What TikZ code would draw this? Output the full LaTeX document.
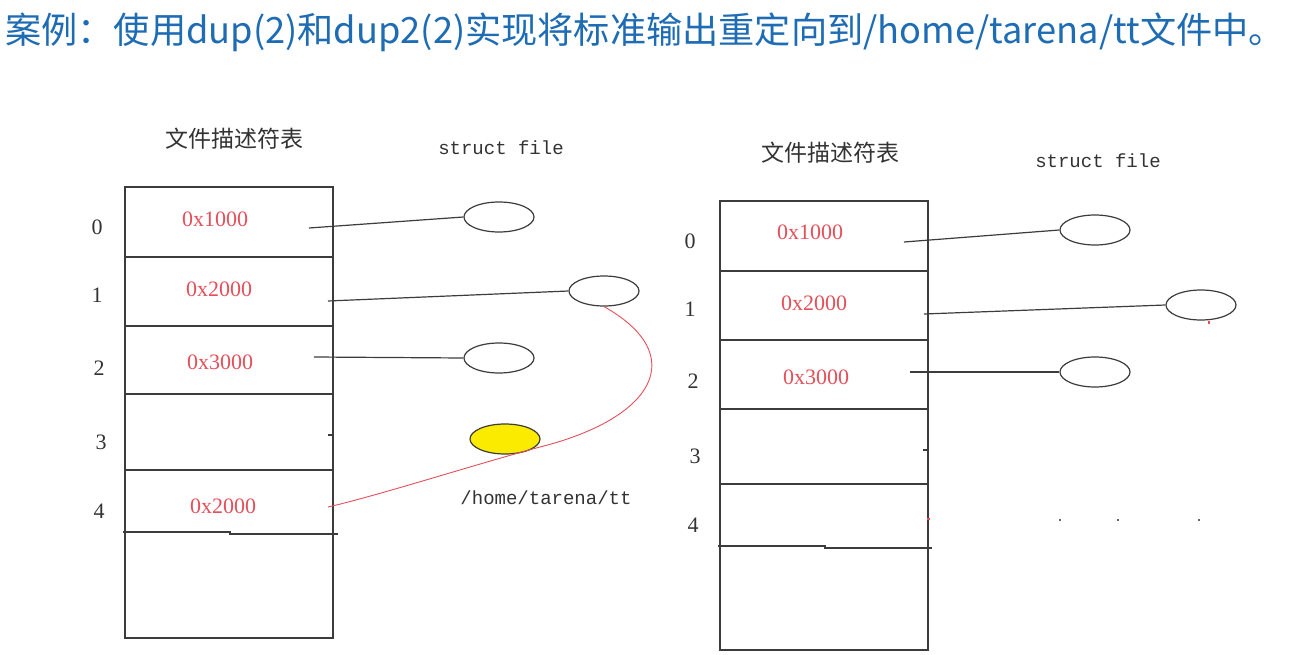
\documentclass[tikz,border=0pt]{standalone}
\usepackage{fontspec}
\newfontfamily\cjk{Noto Sans CJK SC}
\newfontfamily\ser{Liberation Serif}
\newfontfamily\mono{Liberation Mono}
\usetikzlibrary{shapes.geometric}
\definecolor{titleblue}{RGB}{30,108,180}
\definecolor{linegray}{RGB}{60,60,60}
\definecolor{hexred}{RGB}{228,80,90}
\definecolor{fileyellow}{RGB}{250,235,0}
\tikzset{
  tbl/.style={draw=linegray, line width=1.4pt},
  conn/.style={draw=linegray, line width=1.2pt},
  hex/.style={text=hexred, font=\ser\fontsize{22}{24}\selectfont, inner sep=0pt},
  idx/.style={text=black!80, font=\ser\fontsize{22}{24}\selectfont, inner sep=0pt},
  hdr/.style={text=black!80, font=\cjk\fontsize{23}{25}\selectfont, inner sep=0pt},
  sf/.style={text=black!80, font=\mono\fontsize{19}{20}\selectfont, inner sep=0pt},
  fileobj/.style={ellipse, draw=linegray, line width=1.2pt, minimum width=70pt, minimum height=30pt, inner sep=0pt},
  dupline/.style={draw=hexred, line width=0.9pt},
}
\begin{document}
\begin{tikzpicture}[x=1pt,y=-1pt]
\useasboundingbox (0,0) rectangle (1294,655);
\fill[white] (0,0) rectangle (1294,655);
% title
\node[anchor=west, inner sep=0pt, text=titleblue, font=\cjk\fontsize{36.2}{40}\selectfont] (title) at (5,32) {案例：使用dup(2)和dup2(2)实现将标准输出重定向到/home/tarena/tt文件中。};

% ===== left table =====
\node[hdr] (lh) at (234,139) {文件描述符表};
\node[sf] (lsf) at (501,148) {struct file};
\draw[tbl] (125,187) rectangle (333,638);
\draw[tbl] (125,257) -- (333,257);
\draw[tbl] (125,326) -- (333,326);
\draw[tbl] (125,394) -- (333,394);
\draw[tbl] (125,470) -- (333,470);
\draw[tbl] (123,532) -- (230,532) -- (230,534) -- (338,534);
\node[idx] (l0) at (97,227) {0};
\node[idx] (l1) at (97,295) {1};
\node[idx] (l2) at (99,368) {2};
\node[idx] (l3) at (101,442) {3};
\node[idx] (l4) at (99,511) {4};
\node[hex] (lx0) at (215,219) {0x1000};
\node[hex] (lx1) at (219,289) {0x2000};
\node[hex] (lx2) at (220,362) {0x3000};
\node[hex] (lx4) at (223,506) {0x2000};
\node[fileobj] (le0) at (499,217) {};
\node[fileobj] (le1) at (604,291) {};
\node[fileobj] (le2) at (499,358) {};
\node[fileobj, fill=fileyellow] (le3) at (505,439) {};
\node[sf] (ltt) at (546,498) {/home/tarena/tt};
\coordinate (ls0) at (309,228);
\coordinate (ls1) at (328,301);
\coordinate (ls2) at (314,357);
\coordinate (ls4) at (328,507);
\draw[conn] (ls0) -- (le0.west);
\draw[conn] (ls1) -- (le1.west);
\draw[conn] (ls2) -- (le2.west);
\draw[conn] (328,435) -- (333,435);
\draw[dupline] (le1.south) .. controls (690,355) and (655,418) .. (540,447) .. controls (470,466) and (380,495) .. (ls4);

% ===== right table =====
\node[hdr] (rh) at (830,153) {文件描述符表};
\node[sf] (rsf) at (1098,161) {struct file};
\draw[tbl] (720,201) rectangle (928,650);
\draw[tbl] (720,271) -- (928,271);
\draw[tbl] (720,340) -- (928,340);
\draw[tbl] (720,409) -- (928,409);
\draw[tbl] (720,484) -- (928,484);
\draw[tbl] (718,546) -- (825,546) -- (825,548) -- (932,548);
\node[idx] (r0) at (690,241) {0};
\node[idx] (r1) at (690,309) {1};
\node[idx] (r2) at (693,381) {2};
\node[idx] (r3) at (695,456) {3};
\node[idx] (r4) at (693,525) {4};
\node[hex] (rx0) at (810,232) {0x1000};
\node[hex] (rx1) at (814,303) {0x2000};
\node[hex] (rx2) at (816,377) {0x3000};
\node[fileobj] (re0) at (1095,230) {};
\node[fileobj] (re1) at (1201,305) {};
\node[fileobj] (re2) at (1095,372) {};
\coordinate (rs0) at (904,242);
\coordinate (rs1) at (924,314);
\coordinate (rs2) at (910,372);
\draw[conn] (rs0) -- (re0.west);
\draw[conn] (rs1) -- (re1.west);
\draw[conn] (rs2) -- (re2.west);
\draw[conn] (923,450) -- (929,450);
\fill[hexred] (927,518) rectangle (930,520);
\fill[hexred] (1208,321) rectangle (1210,324);
\fill[black!60] (1059,519) rectangle (1061,521);
\fill[black!60] (1117,519) rectangle (1119,521);
\fill[black!60] (1198,519) rectangle (1200,521);
\end{tikzpicture}
\end{document}
